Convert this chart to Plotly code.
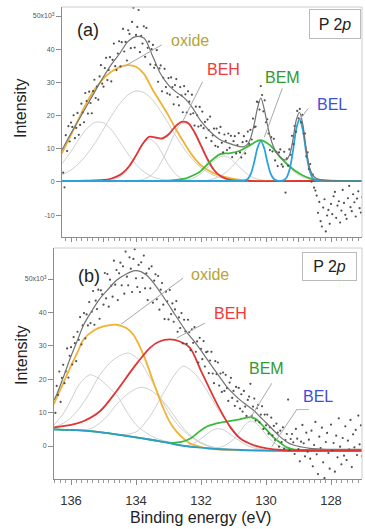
import numpy as np
import plotly.graph_objects as go

# ---------------- Panel (a): measured P 2p spectrum ----------------
A_E_START = 136.24
A_E_STEP = 0.04
A_COUNTS = [
    2.8, -1.6, 14.1, 9.3, 16.8, 12.2, 17.9,
    16.6, 20.1, 13.2, 16.3, 20.8, 14.2, 17.2, 23.6, 20.9, 18.0, 26.8, 24.4, 20.6,
    27.2, 23.8, 20.7, 27.4, 30.8, 25.3, 28.7, 24.8, 31.8, 35.2, 29.6, 28.7,
    34.3, 37.4, 30.7, 33.7, 37.6, 30.3, 36.8, 41.7, 34.9, 33.7, 38.7, 42.4,
    34.8, 42.1, 46.1, 39.3, 42.2, 36.6, 45.7, 44.6, 40.3, 48.2, 52.5, 40.5, 44.3,
    46.7, 51.8, 39.1, 44.0, 41.7, 46.9, 37.7, 46.4, 40.4, 42.3, 35.4, 40.0,
    41.3, 34.4, 35.3, 39.7, 30.2, 34.2, 35.1, 27.3, 31.4, 34.1, 28.6, 26.7, 31.3,
    26.3, 31.5, 28.6, 23.4, 29.2, 31.0, 25.6, 23.1, 28.6, 26.1, 21.0, 28.9,
    26.4, 20.9, 27.3, 24.2, 20.4, 26.3, 20.7, 17.0, 22.7, 20.1, 16.7, 22.6, 17.0,
    21.2, 16.2, 18.1, 13.3, 18.8, 15.6, 19.7, 12.3, 14.0, 16.1, 10.9, 16.1,
    10.6, 14.8, 16.6, 11.8, 8.9, 14.3, 12.4, 9.6, 14.6, 10.3, 13.9, 7.5, 12.3,
    13.8, 8.6, 11.1, 14.7, 8.9, 7.4, 12.0, 13.8, 8.6, 12.3, 15.2, 11.5,
    15.7, 12.8, 19.1, 16.5, 16.7, 24.2, 24.0, 21.8, 28.9, 26.2, 21.3, 24.6, 18.0,
    18.9, 14.6, 9.6, 13.5, 9.2, 13.0, 6.5, 9.1, 4.8, 8.9, 9.8, 5.3,
    4.6, 9.1, -3.2, 7.1, 4.9, 9.8, 8.2, 13.9, 11.4, 16.8, 15.1, 21.4, 19.2,
    22.0, 18.0, 20.2, 14.6, 14.6, 7.7, 8.9, 3.9, 5.4, 0.1, 2.2, -1.7,
    -2.6, -4.1, -9.3, -6.0, -11.8, -13.4, -7.7, -5.2, -14.9, -10.1, -8.4, -12.6, -6.6,
    -9.7, -4.3, -3.0, -10.8, -7.1, -5.8, -12.2, -8.6, -2.4, -6.3, -9.9, -11.1, -4.9,
    -1.2, -7.6, -8.8, -3.7, -6.1, -10.4, -5.0, -2.8, -7.9, -9.2, -4.6, -6.4,
]

# fit envelope (a)
A_ENV_E = [136.28, 136.0, 135.75, 135.5, 135.25, 135.0, 134.75, 134.5, 134.25, 134.0, 133.75, 133.5,
           133.25, 133.0, 132.75, 132.5, 132.25, 132.03, 131.72, 131.41, 131.0, 130.7, 130.56, 130.46,
           130.36, 130.26, 130.16, 130.06, 129.96, 129.86, 129.76, 129.66, 129.57, 129.47, 129.37,
           129.27, 129.17, 129.07, 128.97, 128.87, 128.77, 128.67, 128.57, 128.47, 128.2, 127.5, 127.0]
A_ENV_V = [9.6, 14.7, 18.9, 23.2, 27.5, 31.7, 35.5, 38.7, 42.3, 43.8, 43.3, 38.2,
           32.7, 29.2, 27.0, 25.2, 22.2, 18.7, 15.2, 12.7, 11.2, 10.6, 11.5, 13.6,
           17.6, 22.3, 25.3, 22.2, 17.4, 13.2, 10.4, 8.7, 7.6, 6.8, 6.7,
           8.3, 12.8, 18.6, 21.0, 17.5, 10.5, 4.8, 2.2, 1.2, 0.5, 0.3, 0.3]

# oxide (a)
A_OX_E = [136.28, 136.0, 135.75, 135.5, 135.25, 135.0, 134.75, 134.5, 134.25, 134.0, 133.75, 133.5,
          133.25, 133.0, 132.75, 132.5, 132.25, 132.0, 131.75, 131.5, 131.0, 130.5, 130.0, 129.0, 128.0, 127.0]
A_OX_V = [8.6, 14.2, 19.3, 24.2, 28.2, 31.2, 33.3, 34.6, 35.2, 34.7, 32.5, 28.0,
          24.0, 20.0, 15.5, 11.5, 7.8, 5.0, 3.4, 2.2, 0.9, 0.4, 0.3, 0.3, 0.3, 0.3]
# oxide doublet components (a)
A_G1_E = [136.28, 136.0, 135.75, 135.5, 135.25, 135.0, 134.75, 134.5, 134.25, 134.0, 133.75, 133.5, 133.25, 133.0, 132.5]
A_G1_V = [5.5, 9.2, 13.0, 16.2, 18.0, 17.8, 15.6, 12.2, 8.5, 5.3, 3.0, 1.6, 0.85, 0.5, 0.3]
A_G2_E = [136.28, 136.0, 135.75, 135.5, 135.25, 135.0, 134.75, 134.5, 134.25, 134.0, 133.75, 133.5,
          133.25, 133.0, 132.75, 132.5, 132.25, 132.0, 131.75, 131.5, 131.0, 130.5]
A_G2_V = [2.1, 3.6, 5.7, 8.5, 11.9, 15.9, 20.0, 23.6, 26.2, 27.4, 26.9, 24.8,
          21.5, 17.6, 13.5, 9.8, 6.7, 4.3, 2.7, 1.6, 0.65, 0.3]
# BEH (a)
A_BEH_E = [136.28, 135.5, 135.0, 134.8, 134.6, 134.4, 134.2, 134.0, 133.8, 133.6, 133.4, 133.2, 133.0,
           132.8, 132.6, 132.4, 132.2, 132.0, 131.8, 131.6, 131.4, 131.2, 131.0, 130.5, 129.0, 127.0]
A_BEH_V = [0.3, 0.4, 0.6, 0.9, 1.6, 2.8, 4.9, 8.0, 11.4, 13.6, 13.4, 13.1, 14.3,
           16.6, 18.1, 17.8, 15.0, 11.0, 6.9, 3.6, 1.8, 0.9, 0.5, 0.3, 0.3, 0.3]
A_G3_E = [135.2, 134.8, 134.6, 134.4, 134.2, 134.0, 133.8, 133.6, 133.4, 133.2, 133.0, 132.8, 132.6, 132.4, 132.2, 131.8]
A_G3_V = [0.3, 0.5, 1.0, 2.2, 4.5, 7.9, 11.3, 12.9, 11.8, 8.7, 5.2, 2.6, 1.1, 0.55, 0.3, 0.3]
A_G4_E = [134.4, 134.0, 133.8, 133.6, 133.4, 133.2, 133.0, 132.8, 132.6, 132.4, 132.2, 132.0, 131.8, 131.6, 131.4, 131.2, 131.0, 130.6]
A_G4_V = [0.3, 0.45, 0.75, 1.6, 3.3, 6.4, 10.5, 14.8, 17.5, 17.5, 14.8, 10.5, 6.4, 3.3, 1.6, 0.75, 0.4, 0.3]
# BEM (a)
A_BEM_E = [136.28, 135.0, 134.0, 133.0, 132.5, 132.2, 132.03, 131.72, 131.41, 131.26, 131.1, 130.8, 130.49,
           130.18, 129.88, 129.57, 129.26, 128.95, 128.65, 128.34, 128.0, 127.0]
A_BEM_V = [0.3, 0.3, 0.35, 0.4, 1.0, 2.2, 3.1, 6.1, 8.4, 8.6, 8.7, 9.4, 11.1,
           12.6, 11.1, 7.6, 4.6, 2.4, 1.1, 0.6, 0.4, 0.3]
A_G5_E = [132.5, 132.3, 132.0, 131.7, 131.5, 131.3, 131.1, 130.9, 130.7, 130.5, 130.2, 129.9]
A_G5_V = [0.3, 0.9, 2.5, 5.3, 7.1, 7.8, 7.1, 5.3, 3.4, 1.8, 0.7, 0.3]
A_G6_E = [131.9, 131.6, 131.3, 131.0, 130.8, 130.6, 130.4, 130.18, 130.0, 129.8, 129.6, 129.4, 129.2, 128.9, 128.6, 128.3]
A_G6_V = [0.3, 1.0, 2.4, 5.1, 7.4, 9.9, 11.7, 12.5, 12.0, 10.3, 7.9, 5.5, 3.5, 1.6, 0.7, 0.3]
# BEL (a)
A_BEL_E = [136.28, 131.0, 130.66, 130.56, 130.46, 130.36, 130.26, 130.16, 130.06, 129.96, 129.86, 129.76,
           129.66, 129.57, 129.47, 129.37, 129.27, 129.17, 129.07, 128.97, 128.87, 128.77, 128.67, 128.57,
           128.47, 128.0, 127.0]
A_BEL_V = [0.3, 0.3, 0.4, 0.9, 2.6, 6.1, 10.3, 12.3, 10.3, 6.1, 2.6, 0.9,
           0.4, 0.35, 0.5, 1.3, 3.9, 9.3, 15.9, 18.9, 15.9, 9.3, 3.9, 1.3,
           0.5, 0.3, 0.3]

# ---------------- Panel (b) ----------------
B_E_START = 136.48
B_E_STEP = 0.04
B_COUNTS = [
    9.9, 18.0, 15.3, 22.3, 13.2, 20.4, 24.3, 18.8, 22.3, 29.2, 20.5, 27.0, 29.6,
    24.4, 32.6, 30.8, 25.4, 34.2, 31.8, 38.6, 30.4, 36.1, 39.8, 32.2, 39.4, 36.1,
    43.1, 36.8, 40.2, 46.4, 36.3, 43.5, 41.0, 46.8, 38.1, 46.6, 45.4, 42.3, 51.8,
    44.2, 51.5, 41.7, 49.8, 48.0, 44.7, 55.5, 48.3, 52.7, 43.7, 51.7, 54.9, 48.1,
    53.8, 45.6, 58.2, 50.7, 48.1, 56.5, 53.1, 46.1, 56.0, 58.9, 50.2, 47.6, 54.2,
    46.1, 55.0, 50.3, 57.0, 47.2, 51.7, 43.7, 53.1, 47.2, 53.8, 42.9, 49.5, 51.4,
    43.9, 50.9, 40.8, 46.8, 48.8, 42.3, 38.0, 46.2, 43.3, 37.9, 46.7, 39.5, 42.7,
    37.2, 40.9, 43.4, 34.2, 38.5, 35.3, 39.8, 30.7, 37.8, 34.3, 30.6, 37.8, 34.1,
    28.7, 34.9, 30.9, 35.6, 28.2, 31.3, 25.0, 32.4, 29.1, 26.0, 31.4, 23.8, 28.1,
    28.3, 21.8, 25.6, 28.2, 21.7, 18.8, 25.4, 21.5, 25.0, 18.1, 21.7, 16.2, 22.0,
    16.5, 21.3, 17.3, 13.5, 19.0, 20.4, 14.4, 16.5, 12.0, 17.7, 13.4, 17.4, 11.2,
    15.5, 10.3, 16.5, 11.8, 9.0, 13.8, 14.8, 18.6, 9.0, 11.8, 14.2, 7.6, 11.3,
    12.3, 7.1, 9.4, 11.9, 5.1, 9.4, 6.2, 9.4, 3.7, 5.6, 8.5, 3.2, 6.0,
    1.8, 6.7, 4.0, -0.2, 4.6, 1.2, 5.6, -0.8, 1.8, 3.6, 13.9, -1.3, 2.1,
    3.6, 1.1, -2.4, 5.1, 2.2, -0.9, -4.6, 1.3, 6.3, 0.8, -3.1, 4.0, -1.7,
    1.9, -3.8, 4.6, -6.1, 0.3, 7.2, -2.5, -8.4, 2.8, -0.6, 5.5, -4.9, -9.6, 1.2,
    3.9, -2.1, -6.8, 6.4, -1.3, 0.9, -7.7, 3.1, -3.4, 8.3, -0.2, -5.5, 2.4, -2.9,
    5.9, -4.2, 1.6, -1.0, 7.8, -6.3, 3.5, -0.4, 4.8, -2.7, 9.1, 0.5, 6.2, -3.0, 2.0,
]

B_ENV_E = [136.52, 136.44, 136.2, 136.03, 135.8, 135.62, 135.4, 135.11, 134.85, 134.6, 134.3, 134.03,
           133.85, 133.67, 133.45, 133.26, 133.05, 132.85, 132.65, 132.44, 132.23, 132.03, 131.82,
           131.62, 131.41, 131.21, 131.0, 130.8, 130.6, 130.39, 130.2, 129.98, 129.78, 129.57, 129.36,
           129.16, 128.9, 128.65, 128.3, 127.0]
B_ENV_V = [13.8, 15.4, 21.5, 26.1, 31.7, 36.1, 39.8, 44.1, 47.0, 49.6, 51.5, 52.5,
           52.2, 51.1, 48.7, 46.1, 43.1, 40.1, 37.1, 34.1, 31.6, 29.0, 26.1,
           23.3, 20.5, 17.8, 15.6, 13.8, 12.3, 10.8, 8.9, 6.8, 4.8, 2.8, 1.2,
           0.3, -0.3, -0.7, -0.9, -1.0]

B_BG_E = [136.52, 136.0, 135.5, 135.0, 134.5, 134.0, 133.5, 133.0, 132.5, 132.0, 131.5, 131.0, 130.5, 130.0, 129.0, 128.0, 127.0]
B_BG_V = [5.0, 4.8, 4.5, 4.0, 3.3, 2.6, 1.8, 0.9, 0.0, -0.5, -0.9, -1.1, -1.3, -1.4, -1.5, -1.5, -1.5]

B_OX_E = [136.52, 136.49, 136.25, 136.03, 135.8, 135.62, 135.3, 135.0, 134.6, 134.3, 134.08, 133.77, 133.47,
          133.16, 132.95, 132.75, 132.5, 132.34, 132.0, 131.83, 131.5, 131.0, 130.0, 129.0, 128.0, 127.0]
B_OX_V = [12.5, 13.4, 18.5, 23.4, 28.0, 31.8, 34.6, 35.8, 36.3, 35.3, 33.3, 27.3, 19.3,
          11.3, 7.0, 4.3, 1.9, 0.8, -0.3, -0.7, -1.0, -1.2, -1.4, -1.4, -1.4, -1.4]
B_G1_E = [136.52, 136.25, 136.0, 135.75, 135.42, 135.1, 134.8, 134.6, 134.3, 134.0, 133.7, 133.4, 133.0, 132.6, 132.0, 131.0]
B_G1_V = [6.3, 9.5, 13.8, 18.4, 21.3, 19.9, 17.2, 15.4, 10.5, 6.4, 4.0, 2.4, 1.2, 0.2, -0.4, -1.1]
B_G2_E = [136.52, 136.13, 135.8, 135.45, 135.11, 134.7, 134.24, 133.9, 133.57, 133.25, 132.95, 132.65, 132.34, 132.0, 131.5, 131.0]
B_G2_V = [5.6, 7.4, 10.6, 15.5, 21.3, 25.8, 27.8, 25.6, 20.4, 14.5, 9.4, 5.6, 3.0, 0.8, -0.8, -1.1]

B_BEH_E = [136.52, 136.0, 135.62, 135.11, 134.6, 134.08, 133.57, 133.3, 132.95, 132.65, 132.34, 132.0,
           131.72, 131.41, 131.11, 130.8, 130.39, 129.98, 129.5, 128.5, 127.0]
B_BEH_V = [5.6, 6.3, 7.4, 10.4, 16.4, 23.4, 29.4, 31.2, 31.9, 31.3, 29.4, 22.5,
           16.8, 10.8, 5.8, 2.3, 0.3, -0.7, -1.2, -1.3, -1.3]
B_G3_E = [136.52, 135.8, 135.4, 135.11, 134.85, 134.6, 134.2, 133.83, 133.5, 133.16, 132.85, 132.55, 132.2, 131.8, 131.3, 130.5]
B_G3_V = [5.0, 4.6, 5.2, 6.9, 9.3, 12.4, 16.0, 17.6, 16.4, 13.4, 9.4, 5.4, 2.3, 0.2, -0.9, -1.3]
B_G4_E = [134.5, 134.0, 133.57, 133.3, 133.06, 132.8, 132.55, 132.3, 132.03, 131.72, 131.41, 131.1, 130.8, 130.4, 130.0]
B_G4_V = [3.4, 4.2, 8.9, 13.4, 17.4, 21.5, 23.9, 22.6, 19.8, 15.0, 10.0, 6.0, 2.5, 0.0, -1.2]

B_BEM_E = [136.52, 136.0, 135.5, 135.0, 134.5, 134.0, 133.5, 133.0, 132.6, 132.3, 132.03, 131.8, 131.62,
           131.4, 131.21, 130.9, 130.6, 130.45, 130.3, 130.15, 129.98, 129.8, 129.67, 129.5, 129.36,
           129.16, 128.8, 128.0, 127.0]
B_BEM_V = [5.0, 4.8, 4.5, 4.0, 3.3, 2.6, 1.8, 1.0, 1.2, 2.4, 4.5, 5.9, 6.5,
           7.0, 7.3, 7.8, 8.5, 8.6, 8.0, 6.6, 4.8, 2.9, 1.8, 0.5, -0.4,
           -1.0, -1.2, -1.3, -1.3]
B_G5_E = [133.0, 132.6, 132.3, 132.0, 131.7, 131.5, 131.3, 131.0, 130.7, 130.4, 130.1, 129.5]
B_G5_V = [0.9, 0.1, 0.4, 2.2, 4.4, 5.2, 4.8, 2.8, 0.8, -0.5, -1.1, -1.4]
B_G6_E = [131.8, 131.6, 131.3, 131.0, 130.8, 130.6, 130.45, 130.3, 130.1, 129.9, 129.6, 129.3, 129.0]
B_G6_V = [-0.9, -0.7, 0.0, 2.0, 4.3, 6.8, 7.4, 6.8, 4.6, 2.3, 0.0, -1.0, -1.4]

Y_TICKS_A = [-10, 0, 10, 20, 30, 40, 50]
Y_TICKS_B = [0, 10, 20, 30, 40, 50]
Y_TICKTEXT_A = ["-10", "0", "10", "20", "30", "40", "50x10<sup>3</sup>"]
Y_TICKTEXT_B = ["0", "10", "20", "30", "40", "50x10<sup>3</sup>"]
X_TICKS = [136, 134, 132, 130, 128]
X_TICKTEXT = ["136", "134", "132", "130", "128"]

# ---------------- styling ----------------
W, H = 365, 529
FONT = "Liberation Sans, Arial, sans-serif"
C_DATA = "#505050"
C_ENV = "#737373"
C_COMP = "#cfcfcf"
C_OX = "#f1b232"
C_BEH = "#e03535"
C_BEM = "#3cba3c"
C_BEL = "#2aa3db"
C_BG = "#2f9cc8"


def px(x):
    return x / W


def py(y):
    return 1 - y / H


fig = go.Figure()


def line(xs, ys, color, width, xa, ya):
    fig.add_trace(go.Scatter(x=xs, y=ys, mode="lines", xaxis=xa, yaxis=ya,
                             line=dict(color=color, width=width, shape="spline", smoothing=0.9),
                             hoverinfo="skip"))


def points(start, step, vals, xa, ya):
    e = start - step * np.arange(len(vals))
    fig.add_trace(go.Scatter(x=e, y=vals, mode="markers", xaxis=xa, yaxis=ya,
                             marker=dict(color=C_DATA, size=2.2), hoverinfo="skip"))


# panel (a)
for ex, vy in [(A_G1_E, A_G1_V), (A_G2_E, A_G2_V), (A_G3_E, A_G3_V), (A_G4_E, A_G4_V),
               (A_G5_E, A_G5_V), (A_G6_E, A_G6_V)]:
    line(ex, vy, C_COMP, 1, "x", "y")
line(A_OX_E, A_OX_V, C_OX, 1.8, "x", "y")
line(A_BEH_E, A_BEH_V, C_BEH, 1.8, "x", "y")
line(A_BEM_E, A_BEM_V, C_BEM, 1.8, "x", "y")
line(A_BEL_E, A_BEL_V, C_BEL, 1.8, "x", "y")
points(A_E_START, A_E_STEP, A_COUNTS, "x", "y")
line(A_ENV_E, A_ENV_V, C_ENV, 1.2, "x", "y")

# panel (b)
for ex, vy in [(B_G1_E, B_G1_V), (B_G2_E, B_G2_V), (B_G3_E, B_G3_V), (B_G4_E, B_G4_V),
               (B_G5_E, B_G5_V), (B_G6_E, B_G6_V)]:
    line(ex, vy, C_COMP, 1, "x2", "y2")
line(B_OX_E, B_OX_V, C_OX, 1.8, "x2", "y2")
line(B_BEM_E, B_BEM_V, C_BEM, 1.8, "x2", "y2")
line(B_BG_E, B_BG_V, C_BG, 1.8, "x2", "y2")
line(B_BEH_E, B_BEH_V, C_BEH, 1.8, "x2", "y2")
points(B_E_START, B_E_STEP, B_COUNTS, "x2", "y2")
line(B_ENV_E, B_ENV_V, C_ENV, 1.2, "x2", "y2")

axis_common = dict(showgrid=False, zeroline=False, showline=True, linecolor="#8c8c8c", linewidth=1,
                   ticks="outside", tickcolor="#8c8c8c")

fig.update_layout(
    width=W, height=H, margin=dict(l=0, r=0, t=0, b=0),
    paper_bgcolor="white", plot_bgcolor="white", showlegend=False,
    font=dict(family=FONT, color="#333"),
    xaxis=dict(domain=[px(62), px(362)], range=[136.277, 127.046], anchor="y",
               showticklabels=False, ticklen=4, dtick=1, tick0=136,
               minor=dict(ticks="outside", dtick=1 / 6, ticklen=2.5, tickcolor="#999"), **axis_common),
    yaxis=dict(domain=[py(237), py(7)], range=[-16.57, 52.71], anchor="x",
               tickvals=Y_TICKS_A, ticktext=Y_TICKTEXT_A, ticklen=5,
               tickfont=dict(size=7, color="#555"), **axis_common),
    xaxis2=dict(domain=[px(54), px(362)], range=[136.523, 127.046], anchor="y2",
                tickvals=X_TICKS, ticktext=X_TICKTEXT, ticklen=5, ticklabelstandoff=4,
                tickfont=dict(size=13, color="#333"),
                minor=dict(ticks="outside", dtick=1 / 6, ticklen=2.5, tickcolor="#999"), **axis_common),
    yaxis2=dict(domain=[py(479), py(248)], range=[-9.88, 59.28], anchor="x2",
                tickvals=Y_TICKS_B, ticktext=Y_TICKTEXT_B, ticklen=5,
                tickfont=dict(size=7, color="#555"), **axis_common),
)

# frame lines (top / right) for both panels
shapes = []
for (l, r, t, b) in [(62, 362, 7, 237), (54, 362, 248, 479)]:
    shapes.append(dict(type="line", xref="paper", yref="paper", x0=px(l), x1=px(r), y0=py(t), y1=py(t),
                       line=dict(color="#cccccc", width=1)))
    shapes.append(dict(type="line", xref="paper", yref="paper", x0=px(r), x1=px(r), y0=py(t), y1=py(b),
                       line=dict(color="#cccccc", width=1)))

# leader lines (data coordinates of each panel)
LEADERS_A = [((133.21, 41.3), (134.34, 34.9)), ((131.95, 30.2), (132.55, 18.5)),
             ((129.5, 28.2), (130.05, 13.5)), ((128.7, 22.2), (128.95, 18.9))]
LEADERS_B = [((132.55, 50.3), (134.45, 36.5)), ((131.88, 36.8), (132.75, 32.3)),
             ((129.82, 18.8), (130.49, 8.3)), ((129.06, 10.8), (129.82, -0.2))]
for (p0, p1) in LEADERS_A:
    shapes.append(dict(type="line", xref="x", yref="y", x0=p0[0], y0=p0[1], x1=p1[0], y1=p1[1],
                       line=dict(color="#a8a8a8", width=1)))
for (p0, p1) in LEADERS_B:
    shapes.append(dict(type="line", xref="x2", yref="y2", x0=p0[0], y0=p0[1], x1=p1[0], y1=p1[1],
                       line=dict(color="#a8a8a8", width=1)))
shapes.append(dict(type="line", xref="x2", yref="y2", x0=129.08, y0=10.9, x1=128.68, y1=10.9,
                   line=dict(color="#8fc4ea", width=1)))
fig.update_layout(shapes=shapes)

C_LBL_OX = "#b3a53a"
C_LBL_BEH = "#ee3a3a"
C_LBL_BEM = "#2f9a2f"
C_LBL_BEL = "#3b4fe0"

ann = []


def text(x, y, s, size, color, **kw):
    ann.append(dict(x=px(x), y=py(y), xref="paper", yref="paper", text=s, showarrow=False,
                    xanchor="center", yanchor="middle", font=dict(size=size, color=color, family=FONT), **kw))


# panel (a)
text(88, 30.5, "(a)", 18, "#222")
text(190, 41, "oxide", 16, C_LBL_OX)
text(223.5, 69, "BEH", 16, C_LBL_BEH)
text(282.5, 77.5, "BEM", 16, C_LBL_BEM)
text(332, 104.5, "BEL", 16, C_LBL_BEL)
text(335, 24, "P 2<i>p</i>", 16, "#222", bordercolor="#bbbbbb", borderwidth=1, borderpad=0,
     width=50, height=28, bgcolor="white")
# panel (b)
text(89, 275.5, "(b)", 18, "#222")
text(209.5, 274.5, "oxide", 16, C_LBL_OX)
text(230, 313.5, "BEH", 16, C_LBL_BEH)
text(266.5, 368.5, "BEM", 16, C_LBL_BEM)
text(317.5, 396, "BEL", 16, C_LBL_BEL)
text(329, 266.5, "P 2<i>p</i>", 16, "#222", bordercolor="#bbbbbb", borderwidth=1, borderpad=0,
     width=53, height=27, bgcolor="white")
# axis titles
text(21, 108, "Intensity", 16, "#222", textangle=-90)
text(21, 355, "Intensity", 16, "#222", textangle=-90)
text(200, 517, "Binding energy (eV)", 16, "#222")
fig.update_layout(annotations=ann)

fig.write_html("out.html", config={"displayModeBar": False, "staticPlot": True},
               post_script="document.body.style.margin='0px';")
